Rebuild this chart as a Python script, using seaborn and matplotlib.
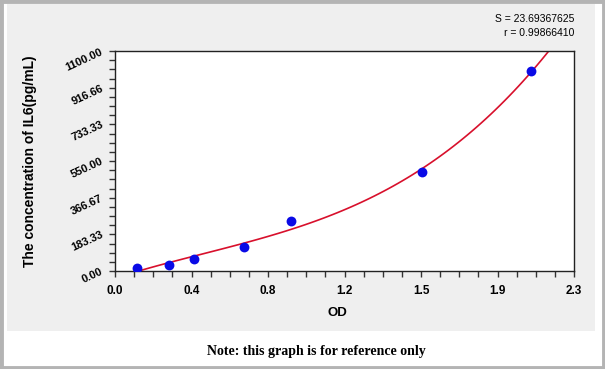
import numpy as np
import pandas as pd
import seaborn as sns
import matplotlib
matplotlib.use("Agg")
import matplotlib.pyplot as plt
from matplotlib.patches import Rectangle
from matplotlib.ticker import AutoMinorLocator

# standard curve points
od = [0.110, 0.272, 0.396, 0.648, 0.882, 1.540, 2.086]
conc = [15.0, 28.5, 60.0, 121.5, 250.0, 495.0, 1000.0]

x_ticklabels = ["0.0", "0.4", "0.8", "1.2", "1.5", "1.9", "2.3"]
y_ticklabels = ["0.00", "183.33", "366.67", "550.00", "733.33", "916.66", "1100.00"]

fit_s = "S = 23.69367625"
fit_r = "r = 0.99866410"

df = pd.DataFrame({"OD": od, "Conc": conc})

sns.set_style("ticks")
plt.rcParams["font.family"] = ["Liberation Sans", "DejaVu Sans"]
plt.rcParams["text.color"] = "black"
plt.rcParams["axes.labelcolor"] = "black"
plt.rcParams["xtick.color"] = "black"
plt.rcParams["ytick.color"] = "black"

fig = plt.figure(figsize=(6.05, 3.69), dpi=100)
fig.patch.set_facecolor("white")

# outer frame and grey panel behind the chart
fig.patches.append(Rectangle((0.002, 0.004), 0.996, 0.992, transform=fig.transFigure,
                             fill=False, edgecolor="#b4b4b4", linewidth=3.5, zorder=-2))
fig.patches.append(Rectangle((7 / 605, 1 - 331 / 369), 588 / 605, 327 / 369,
                             transform=fig.transFigure, facecolor="#efefef",
                             edgecolor="none", zorder=-2))

ax = fig.add_axes([115 / 605, 1 - 271 / 369, 459 / 605, 220 / 369])
ax.set_facecolor("white")
ax.set_xlim(0, 2.3)
ax.set_ylim(0, 1100)

# cubic fit through the points, drawn over the whole x range
sns.regplot(data=df, x="OD", y="Conc", order=3, ci=None, truncate=False, ax=ax,
            scatter_kws={"s": 50, "color": "#0a0ae6", "alpha": 1, "zorder": 3,
                         "linewidths": 0},
            line_kws={"color": "#d8102c", "linewidth": 1.2, "zorder": 2})
ax.set_xlim(0, 2.3)
ax.set_ylim(0, 1100)

ax.set_xticks(np.linspace(0, 2.3, 7))
ax.set_xticklabels(x_ticklabels, fontsize=8.5, fontweight="bold")
ax.set_yticks(np.linspace(0, 1100, 7))
ax.set_yticklabels(y_ticklabels, fontsize=8, fontweight="bold", rotation=25,
                   rotation_mode="anchor", ha="right", va="center")
ax.xaxis.set_minor_locator(AutoMinorLocator(4))
ax.yaxis.set_minor_locator(AutoMinorLocator(4))
ax.tick_params(which="both", direction="out", length=4, width=1, color="#333333")
ax.tick_params(axis="x", which="major", pad=6)
ax.tick_params(axis="y", which="major", pad=5)

for sp in ax.spines.values():
    sp.set_visible(True)
    sp.set_color("#222222")
    sp.set_linewidth(1)

ax.set_xlabel("OD", fontsize=9.5, fontweight="bold")
ax.set_ylabel("The concentration of IL6(pg/mL)", fontsize=10, fontweight="bold")
ax.xaxis.set_label_coords(0.484, -0.164)
ax.yaxis.set_label_coords(-0.170, 0.5)

fig.text(574 / 605, 1 - 22 / 369, fit_s, ha="right", va="baseline", fontsize=7.5)
fig.text(574 / 605, 1 - 36 / 369, fit_r, ha="right", va="baseline", fontsize=7.5)

fig.text(316 / 605, 1 - 352 / 369, "Note: this graph is for reference only",
         ha="center", va="center", fontsize=10, fontweight="bold",
         family=["Liberation Serif", "DejaVu Serif"])

fig.savefig("out.png", dpi=100)
